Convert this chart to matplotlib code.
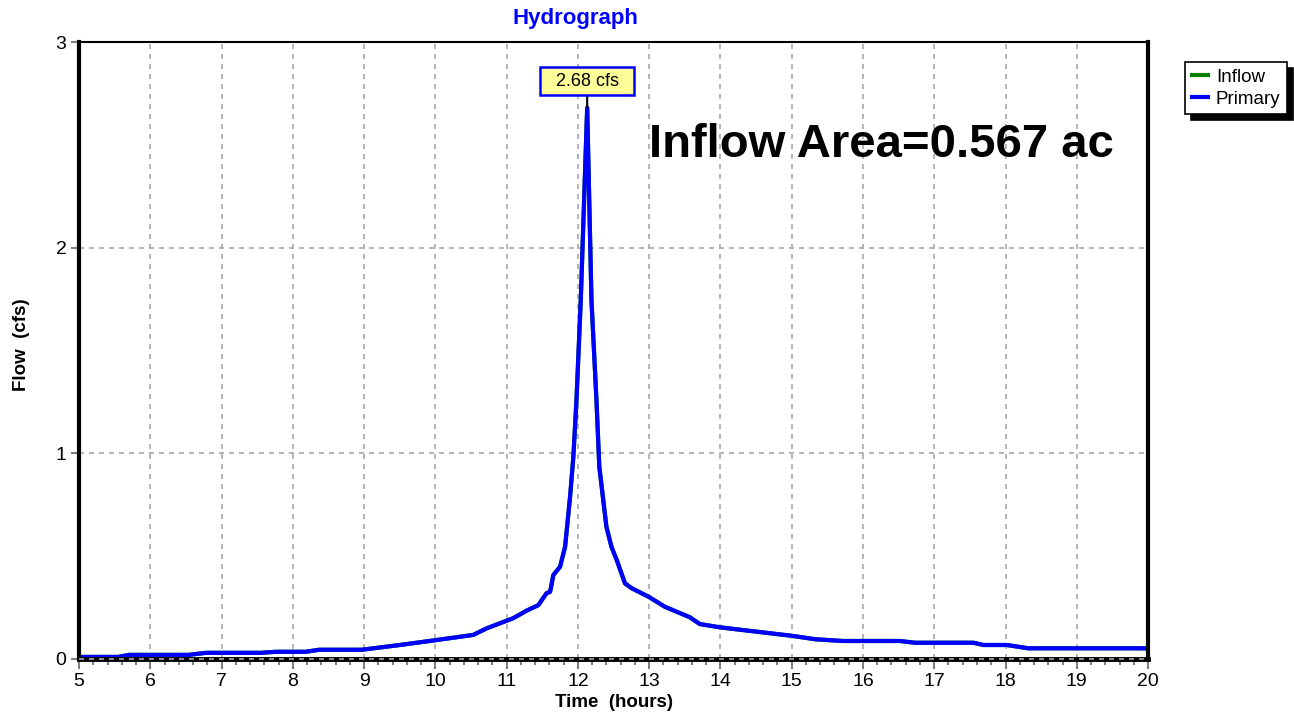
import matplotlib.pyplot as plt
from matplotlib.ticker import MultipleLocator

# hydrograph (hours, cfs)
hours = [5.0, 5.55, 5.7, 6.54, 6.78, 7.55, 7.76, 8.18, 8.37, 8.97, 9.5, 9.97,
         10.53, 10.72, 11.09, 11.28, 11.445, 11.56, 11.61, 11.655, 11.75, 11.82,
         11.89, 11.936, 11.98, 12.02, 12.04, 12.13, 12.19, 12.26, 12.30, 12.40,
         12.47, 12.545, 12.66, 12.755, 12.99, 13.22, 13.57, 13.71, 13.99, 15.02,
         15.33, 15.72, 16.52, 16.73, 17.55, 17.69, 18.02, 18.32, 20.0]
primary = [0.01, 0.01, 0.02, 0.02, 0.03, 0.03, 0.035, 0.035, 0.045, 0.045, 0.068, 0.09,
           0.117, 0.149, 0.198, 0.235, 0.262, 0.320, 0.327, 0.408, 0.449, 0.546,
           0.789, 0.983, 1.26, 1.585, 1.745, 2.68, 1.745, 1.26, 0.935, 0.643,
           0.546, 0.481, 0.368, 0.344, 0.303, 0.254, 0.203, 0.170, 0.154, 0.112,
           0.096, 0.0875, 0.0875, 0.079, 0.079, 0.068, 0.068, 0.052, 0.052]
inflow = primary  # hidden under the primary curve

peak_label = "2.68 cfs"
area_label = "Inflow Area=0.567 ac"

plt.rcParams['font.family'] = ['Liberation Sans', 'DejaVu Sans']

fig = plt.figure(figsize=(12.94, 7.17), dpi=100)
ax = fig.add_axes([0.0611, 0.0809, 0.8261, 0.8605])

ax.plot(hours, inflow, color='#008000', lw=3, label='Inflow')
ax.plot(hours, primary, color='#0000ff', lw=3, label='Primary', solid_joinstyle='round')

ax.set_xlim(5, 20)
ax.set_ylim(0, 3)
ax.xaxis.set_major_locator(MultipleLocator(1))
ax.xaxis.set_minor_locator(MultipleLocator(0.2))
ax.yaxis.set_major_locator(MultipleLocator(1))

ax.grid(True, which='major', color='#a8a8a8', linestyle=(0, (3, 3)), lw=1.2)
ax.set_axisbelow(True)

for side in ['left', 'right']:
    ax.spines[side].set_linewidth(3)
ax.spines['top'].set_linewidth(1.5)
ax.spines['bottom'].set_linewidth(3.5)
ax.axhline(0, color='#a8a8a8', lw=1.2, linestyle=(0, (3, 3)), zorder=5, clip_on=False)

ax.tick_params(axis='both', which='major', color='#808080', width=1.5, length=7,
               labelsize=14, pad=3)
ax.tick_params(axis='x', which='minor', color='#808080', width=1.5, length=4)
ax.tick_params(axis='y', length=6)

ax.set_xlabel('Time  (hours)', fontsize=13.5, fontweight='bold')
ax.xaxis.set_label_coords(0.5, -0.056)
ax.set_ylabel('Flow  (cfs)', fontsize=13.5, fontweight='bold')
ax.yaxis.set_label_coords(-0.046, 0.509)

fig.text(0.445, 0.974, 'Hydrograph', color='#0000ff', fontsize=16, fontweight='bold',
         ha='center', va='center')

# peak annotation
i_peak = primary.index(max(primary))
ax.annotate('  ' + peak_label + '  ', xy=(hours[i_peak], primary[i_peak]),
            xytext=(hours[i_peak], 2.81),
            ha='center', va='center', fontsize=13,
            bbox=dict(boxstyle='square,pad=0.3', fc='#ffff99', ec='#0000ff', lw=1.8),
            arrowprops=dict(arrowstyle='-', color='black', lw=1.5, shrinkA=0, shrinkB=0))

ax.text(13.0, 2.5, area_label, fontsize=34, fontweight='bold', ha='left', va='center')

leg = ax.legend(loc='upper left', bbox_to_anchor=(1.0346, 0.9676), frameon=True,
                fancybox=False, shadow={'color': 'black', 'alpha': 1, 'ox': 4, 'oy': -4},
                edgecolor='black', fontsize=13.5, handlelength=0.9, handletextpad=0.4,
                borderpad=0.35, labelspacing=0.25, borderaxespad=0)
leg.get_frame().set_linewidth(1.2)

fig.savefig('out.png', dpi=100)
